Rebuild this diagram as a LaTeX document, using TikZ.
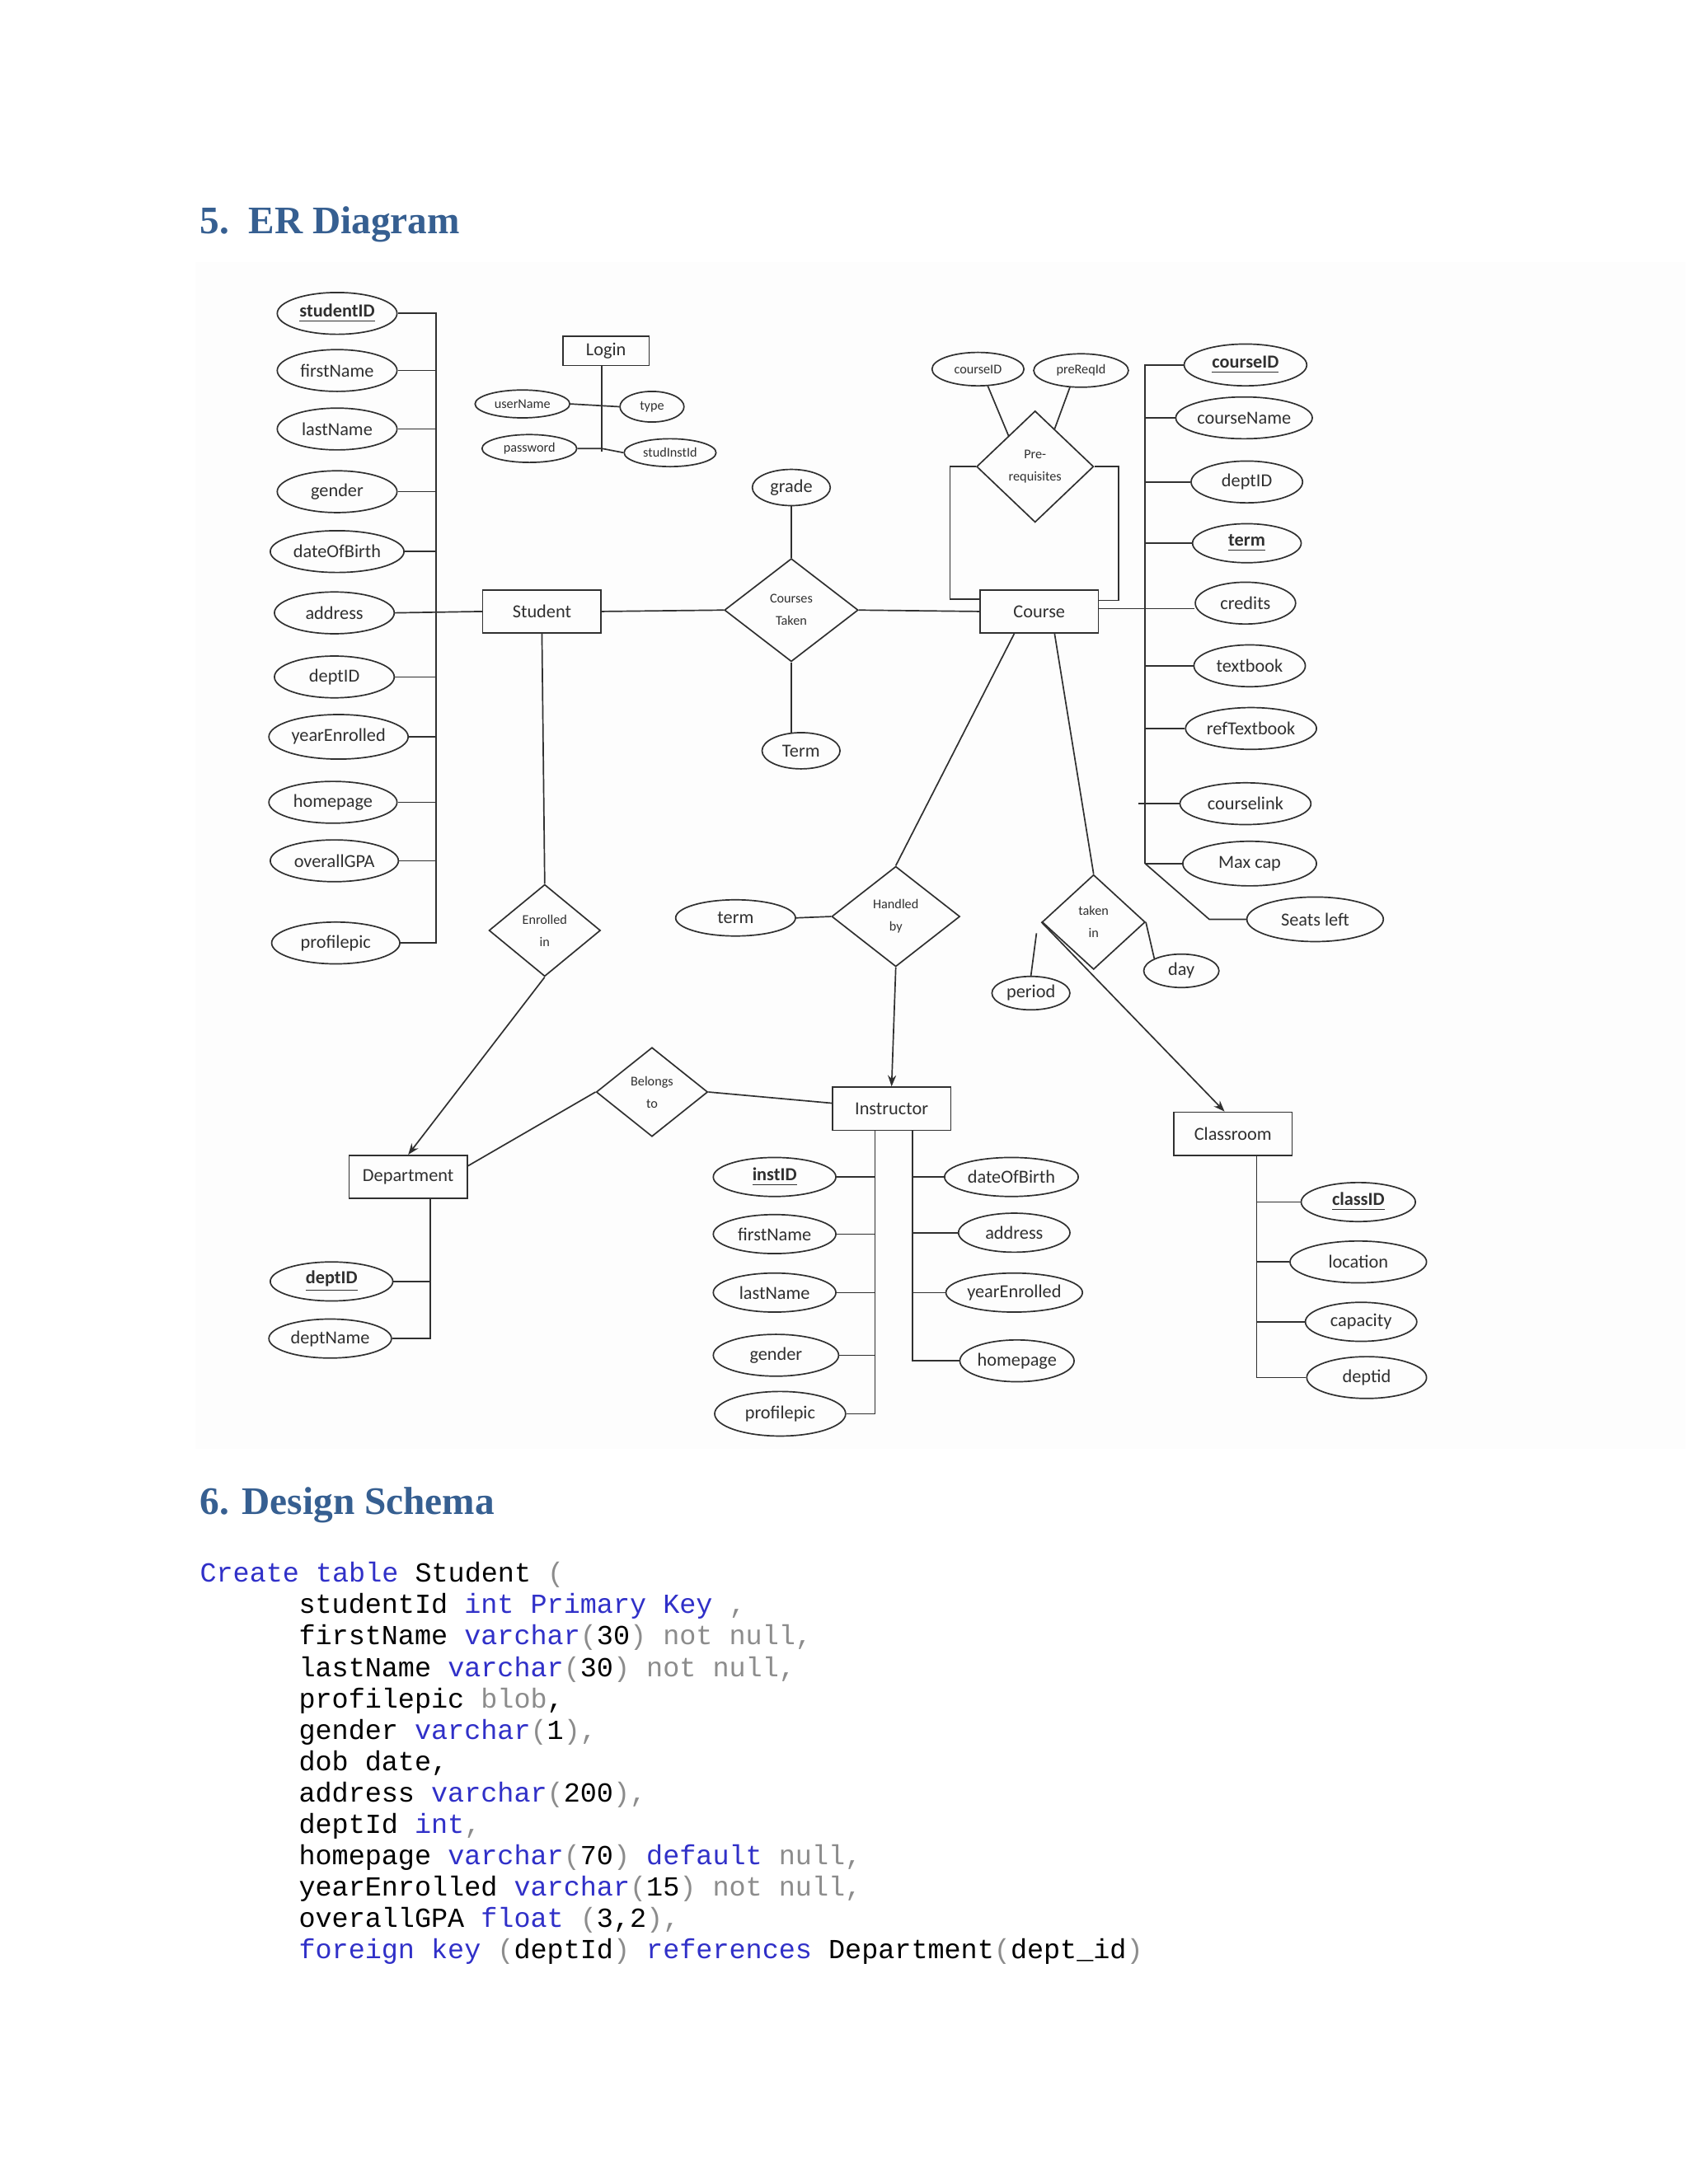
\documentclass[tikz,border=0pt]{standalone}
\usepackage{fontspec}
\setmainfont{Liberation Serif}
\newfontfamily\er{Carlito}
\newfontfamily\mono{Liberation Mono}
\usetikzlibrary{shapes.geometric,arrows.meta}
\definecolor{headblue}{HTML}{365F91}
\definecolor{kwc}{HTML}{3030C8}
\definecolor{grc}{HTML}{8C8C8C}
\definecolor{lnc}{HTML}{303030}
\newcommand{\kw}{\color{kwc}}
\newcommand{\grr}{\color{grc}}
\begin{document}
\begin{tikzpicture}[x=0.5pt,y=-0.5pt,line width=0.5pt,draw=lnc,
  attr/.style 2 args={ellipse,draw,minimum width=#1*0.5pt,minimum height=#2*0.5pt,inner sep=0pt,text=lnc,font=\er\fontsize{6.6}{8}\selectfont},
  sattr/.style 2 args={ellipse,draw,minimum width=#1*0.5pt,minimum height=#2*0.5pt,inner sep=0pt,text=lnc,font=\er\fontsize{4.8}{6}\selectfont},
  ent/.style={rectangle,draw,minimum width=42.5pt,minimum height=15.5pt,inner sep=0pt,text=lnc,font=\er\fontsize{6.6}{8}\selectfont},
  rel/.style 2 args={diamond,draw,minimum width=#1*1pt,minimum height=#2*1pt,inner sep=0pt,align=center,text=lnc,font=\er\fontsize{4.8}{8}\selectfont},
  arr/.style={-{Stealth[length=4pt,width=3pt]}},
  code/.style={anchor=base west,inner sep=0pt,font=\mono\fontsize{9.9}{11}\selectfont},
  head/.style={anchor=base west,inner sep=0pt,text=headblue,font=\bfseries\fontsize{14}{16}\selectfont}]
\useasboundingbox (0,0) rectangle (1212,1568);
\fill[white] (0,0) rectangle (1212,1568);
\fill[black!0.8] (140,188) rectangle (1210,1040);

\node[head] (h1) at (143,168) {5.\ \ ER Diagram};
\node[head] (h2) at (143,1087) {6. Design Schema};

% Student
\node[ent] (stu) at (389,439) {Student};
\coordinate (bs) at (313,0);
\node[attr={86}{30}] (s1) at (242,225) {\textbf{\underline{studentID}}};
\node[attr={86}{30}] (s2) at (242,266) {firstName};
\node[attr={86}{30}] (s3) at (242,308) {lastName};
\node[attr={86}{30}] (s4) at (242,353) {gender};
\node[attr={96}{30}] (s5) at (242,396) {dateOfBirth};
\node[attr={86}{30}] (s6) at (240,440) {address};
\node[attr={86}{30}] (s7) at (240,486) {deptID};
\node[attr={100}{32}] (s8) at (243,529) {yearEnrolled};
\node[attr={92}{30}] (s9) at (239,576) {homepage};
\node[attr={92}{30}] (s10) at (240,618) {overallGPA};
\node[attr={92}{30}] (s11) at (241,677) {profilepic};
\draw (s1.east) -- (s1.east -| bs) -- (s11.east -| bs) -- (s11.east);
\foreach \n in {s2,s3,s4,s5,s7,s8,s9,s10} \draw (\n.east) -- (\n.east -| bs);
\draw (s6.east) -- (stu.west);

% Login
\node[ent,minimum width=31pt,minimum height=10.5pt] (log) at (435,252) {Login};
\coordinate (bl) at (432,324);
\node[sattr={68}{20}] (l1) at (375,290) {userName};
\node[sattr={46}{22}] (l2) at (468,292) {type};
\node[sattr={68}{20}] (l3) at (380,322) {password};
\node[sattr={66}{20}] (l4) at (481,325) {studInstId};
\draw (log.south -| bl) -- (bl);
\draw (l1.east) -- (l2.west);
\draw (l3.east) -- (l3.east -| bl) -- (l4.west);

% Courses taken
\node[rel={48}{37}] (ct) at (568,438) {Courses\\Taken};
\node[attr={56}{26}] (gr) at (568,350) {grade};
\node[attr={56}{26}] (tm) at (575,539) {Term};
\node[ent] (crs) at (746,439) {Course};
\draw (stu.east) -- (ct.west);
\draw (ct.east) -- (crs.west);
\draw (gr.south) -- (ct.north);
\draw (ct.south) -- (568,526);

% Prerequisites
\node[rel={42}{40}] (pre) at (743,335) {Pre-\\requisites};
\node[sattr={66}{24}] (p1) at (702,265) {courseID};
\node[sattr={68}{24}] (p2) at (776,266) {preReqId};
\draw (709,277) -- (724,313);
\draw (768,278) -- (757,308);
\draw (pre.west) -- (682,335) -- (682,430) -- (704,430);
\draw (pre.east) -- (803,335) -- (803,431) -- (789,431);

% Course attributes
\coordinate (bc) at (822,0);
\node[attr={88}{30}] (c1) at (894,262) {\textbf{\underline{courseID}}};
\node[attr={98}{30}] (c2) at (893,300) {courseName};
\node[attr={80}{30}] (c3) at (895,346) {deptID};
\node[attr={78}{28}] (c4) at (895,390) {\textbf{\underline{term}}};
\node[attr={72}{30}] (c5) at (894,433) {credits};
\node[attr={80}{30}] (c6) at (897,478) {textbook};
\node[attr={94}{30}] (c7) at (898,523) {refTextbook};
\node[attr={94}{30}] (c8) at (894,577) {courselink};
\node[attr={96}{32}] (c9) at (897,620) {Max cap};
\node[attr={98}{32}] (c10) at (944,660) {Seats left};
\draw (c1.west) -- (c1.west -| bc) -- (822,620);
\foreach \n in {c2,c3,c4,c6,c7,c9} \draw (\n.west) -- (\n.west -| bc);
\draw (crs.east |- 0,437) -- (c5.west |- 0,437);
\draw (c8.west) -- (817,577);
\draw (822,620) -- (868,660) -- (c10.west);

% Handled by
\node[rel={46}{36}] (hb) at (643,658) {Handled\\by};
\node[attr={86}{26}] (tm2) at (528,659) {term};
\node[ent] (ins) at (640,796) {Instructor};
\draw (728,455) -- (hb.north);
\draw (tm2.east) -- (hb.west);
\draw[arr] (hb.south) -- (ins.north);

% taken in
\node[rel={37}{34}] (ti) at (785,662) {taken\\in};
\node[attr={56}{24}] (per) at (740,713) {period};
\node[attr={54}{24}] (day) at (848,697) {day};
\node[ent] (cls) at (885,814) {Classroom};
\draw (757,455) -- (ti.north);
\draw (per.north) -- (744,670);
\draw (ti.east) -- (day.north west);
\draw[arr] (ti.west) -- (cls.north -| 879,0);

% Enrolled in
\node[rel={40}{33}] (en) at (391,668) {Enrolled\\in};
\node[ent] (dep) at (293,845) {Department};
\draw (stu.south) -- (en.north);
\draw[arr] (en.south) -- (dep.north);

% Belongs to
\node[rel={40}{32}] (bt) at (468,784) {Belongs\\to};
\draw (336,837) -- (bt.west);
\draw (bt.east) -- (ins.west |- 0,792);

% Department attributes
\coordinate (bd) at (309,0);
\node[attr={88}{28}] (d1) at (238,920) {\textbf{\underline{deptID}}};
\node[attr={88}{28}] (d2) at (237,961) {deptName};
\draw (dep.south -| bd) -- (d2.east -| bd) -- (d2.east);
\draw (d1.east) -- (d1.east -| bd);

% Instructor attributes
\coordinate (bi) at (628,0);
\coordinate (bj) at (655,0);
\node[attr={88}{28}] (i1) at (556,845) {\textbf{\underline{instID}}};
\node[attr={88}{28}] (i2) at (556,886) {firstName};
\node[attr={88}{28}] (i3) at (556,928) {lastName};
\node[attr={90}{30}] (i4) at (557,973) {gender};
\node[attr={94}{32}] (i5) at (560,1015) {profilepic};
\node[attr={96}{28}] (i6) at (726,845) {dateOfBirth};
\node[attr={80}{28}] (i7) at (728,885) {address};
\node[attr={98}{28}] (i8) at (728,928) {yearEnrolled};
\node[attr={82}{30}] (i9) at (730,977) {homepage};
\draw (ins.south -| bi) -- (i5.east -| bi) -- (i5.east);
\foreach \n in {i1,i2,i3,i4} \draw (\n.east) -- (\n.east -| bi);
\draw (ins.south -| bj) -- (i9.west -| bj) -- (i9.west);
\foreach \n in {i6,i7,i8} \draw (\n.west) -- (\n.west -| bj);

% Classroom attributes
\coordinate (bk) at (902,0);
\node[attr={82}{28}] (k1) at (975,863) {\textbf{\underline{classID}}};
\node[attr={98}{30}] (k2) at (975,906) {location};
\node[attr={80}{28}] (k3) at (977,949) {capacity};
\node[attr={86}{30}] (k4) at (981,989) {deptid};
\draw (cls.south -| bk) -- (k4.west -| bk) -- (k4.west);
\foreach \n in {k1,k2,k3} \draw (\n.west) -- (\n.west -| bk);

% Code
\node[code] (q1) at (143,1136) {{\kw Create table} Student {\grr (}};
\node[code] (q2) at (214,1158.5) {studentId {\kw int Primary Key} {\grr ,}};
\node[code] (q3) at (214,1181) {firstName {\kw varchar}{\grr (}30{\grr )} {\grr not null,}};
\node[code] (q4) at (214,1203.5) {lastName {\kw varchar}{\grr (}30{\grr )} {\grr not null,}};
\node[code] (q5) at (214,1226) {profilepic {\grr blob},};
\node[code] (q6) at (214,1248.5) {gender {\kw varchar}{\grr (}1{\grr ),}};
\node[code] (q7) at (214,1271) {dob date,};
\node[code] (q8) at (214,1293.5) {address {\kw varchar}{\grr (}200{\grr ),}};
\node[code] (q9) at (214,1316) {deptId {\kw int}{\grr ,}};
\node[code] (q10) at (214,1338.5) {homepage {\kw varchar}{\grr (}70{\grr )} {\kw default} {\grr null,}};
\node[code] (q11) at (214,1361) {yearEnrolled {\kw varchar}{\grr (}15{\grr )} {\grr not null,}};
\node[code] (q12) at (214,1383.5) {overallGPA {\kw float} {\grr (}3,2{\grr ),}};
\node[code] (q13) at (214,1406) {{\kw foreign key} {\grr (}deptId{\grr )} {\kw references} Department{\grr (}dept\_id{\grr )}};
\end{tikzpicture}
\end{document}
